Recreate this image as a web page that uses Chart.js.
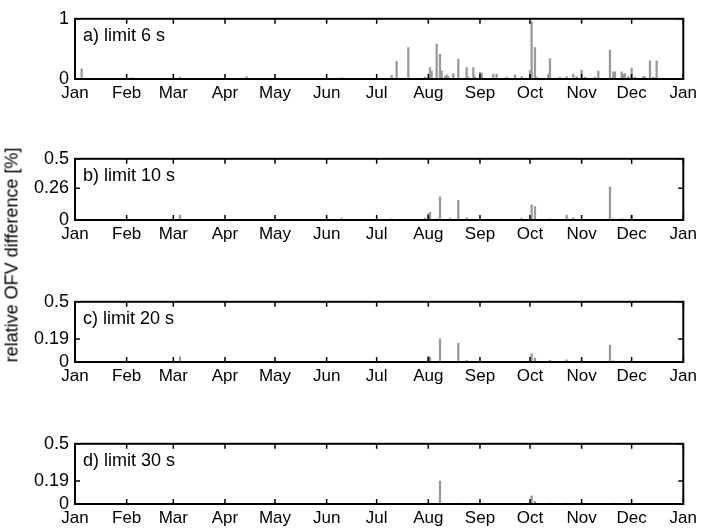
<!DOCTYPE html>
<html>
<head>
<meta charset="utf-8">
<script src="https://cdn.jsdelivr.net/npm/chart.js@4.4.0/dist/chart.umd.min.js"></script>
<style>
  body { margin: 0; background: #fff; }
  #page { position: relative; width: 701px; height: 532px; }
  .panel { position: absolute; left: 0; width: 701px; }
  #ylabel {
    position: absolute; left: 12px; top: 255px;
    transform: translate(-50%, -50%) rotate(-90deg);
    font: 18px "Liberation Sans", Arial, sans-serif;
    white-space: nowrap; color: #000;
  }
</style>
</head>
<body>
<div id="page">
  <div class="panel" style="top:2px;height:105px"><canvas id="c0"></canvas></div>
  <div class="panel" style="top:142px;height:106px"><canvas id="c1"></canvas></div>
  <div class="panel" style="top:285px;height:105px"><canvas id="c2"></canvas></div>
  <div class="panel" style="top:427px;height:105px"><canvas id="c3"></canvas></div>
  <div id="ylabel">relative OFV difference [%]</div>
</div>
<script>
// eje x: dia del año (0 = 1 de enero)
const monthDays = [0, 31, 59, 90, 120, 151, 181, 212, 243, 273, 304, 334, 365];
const monthLabels = ['Jan', 'Feb', 'Mar', 'Apr', 'May', 'Jun', 'Jul', 'Aug', 'Sep', 'Oct', 'Nov', 'Dec', 'Jan'];

// a) limit 6 s
const daysA = [4, 34, 63, 103, 160, 166, 190, 193, 200, 210, 213, 214, 217, 219, 220, 222, 223, 224, 227, 230,
  235, 236, 239, 240, 243, 244, 251, 253, 259, 264, 268, 273, 274, 276, 277, 284, 285, 291, 295, 299,
  301, 304, 306, 312, 314, 321, 323, 324, 328, 329, 330, 332, 334, 336, 341, 342, 345, 347, 349];
const valuesA = [0.17, 0.02, 0.03, 0.04, 0.02, 0.01, 0.06, 0.29, 0.52, 0.03, 0.19, 0.13, 0.58, 0.41, 0.13, 0.04, 0.07, 0.04, 0.09, 0.33,
  0.19, 0.03, 0.19, 0.04, 0.11, 0.10, 0.08, 0.08, 0.03, 0.07, 0.04, 0.14, 0.95, 0.52, 0.03, 0.08, 0.34, 0.03, 0.04, 0.08,
  0.04, 0.15, 0.03, 0.03, 0.13, 0.48, 0.12, 0.12, 0.12, 0.08, 0.09, 0.04, 0.18, 0.03, 0.04, 0.04, 0.30, 0.03, 0.30];

// b) limit 10 s
const daysB = [63, 160, 190, 210, 212, 213, 217, 219, 225, 230, 235, 268, 274, 276, 285, 295, 299, 321, 323, 327, 329, 334];
const valuesB = [0.04, 0.015, 0.01, 0.015, 0.053, 0.063, 0.01, 0.19, 0.015, 0.16, 0.018, 0.015, 0.124, 0.109, 0.01, 0.04, 0.018, 0.27, 0.01, 0.01, 0.01, 0.04];

// c) limit 20 s
const daysC = [63, 212, 213, 219, 230, 235, 274, 276, 285, 295, 321, 323, 328];
const valuesC = [0.043, 0.048, 0.038, 0.193, 0.155, 0.013, 0.068, 0.033, 0.013, 0.018, 0.14, 0.01, 0.008];

// d) limit 30 s
const daysD = [219, 230, 274, 276, 285, 295, 324];
const valuesD = [0.19, 0.008, 0.067, 0.023, 0.008, 0.008, 0.008];

const panelLabels = ['a) limit 6 s', 'b) limit 10 s', 'c) limit 20 s', 'd) limit 30 s'];
const yTicksA = [0, 1];
const yTicksB = [0, 0.26, 0.5];
const yTicksC = [0, 0.19, 0.5];
const yTicksD = [0, 0.19, 0.5];

Chart.defaults.font.family = '"Liberation Sans", Arial, sans-serif';
Chart.defaults.font.size = 17;
Chart.defaults.color = '#000';

// marco, ticks hacia dentro y rotulo del panel
const framePlugin = {
  id: 'frame',
  afterDatasetsDraw(chart, args, opts) {
    const { ctx, chartArea: a, scales: { x, y } } = chart;
    ctx.save();
    ctx.strokeStyle = '#000';
    ctx.lineWidth = 1.5;
    ctx.beginPath();
    x.ticks.forEach(t => {
      const px = x.getPixelForValue(t.value);
      ctx.moveTo(px, a.bottom); ctx.lineTo(px, a.bottom - 5);
      ctx.moveTo(px, a.top); ctx.lineTo(px, a.top + 5);
    });
    y.ticks.forEach(t => {
      const py = y.getPixelForValue(t.value);
      ctx.moveTo(a.left, py); ctx.lineTo(a.left + 5, py);
      ctx.moveTo(a.right, py); ctx.lineTo(a.right - 5, py);
    });
    ctx.stroke();
    ctx.lineWidth = 2;
    ctx.strokeRect(a.left, a.top, a.width, a.height);
    ctx.font = '18px "Liberation Sans", Arial, sans-serif';
    ctx.fillStyle = '#000';
    ctx.textBaseline = 'middle';
    ctx.fillText(opts.text, a.left + 8, a.top + 17);
    ctx.restore();
  }
};

function crearPanel(id, days, values, yTicks, label) {
  const ctx = document.getElementById(id).getContext('2d');
  return new Chart(ctx, {
    type: 'bar',
    data: {
      datasets: [{
        data: days.map((d, i) => ({ x: d, y: values[i] })),
        backgroundColor: '#999999',
        barThickness: 1.6,
        grouped: false
      }]
    },
    options: {
      responsive: true,
      maintainAspectRatio: false,
      animation: false,
      layout: { padding: { top: 12, right: 16, left: 0, bottom: 0 } },
      plugins: {
        legend: { display: false },
        tooltip: { enabled: false },
        frame: { text: label }
      },
      scales: {
        x: {
          type: 'linear',
          min: 0,
          max: 365,
          offset: false,
          grid: { display: false, drawTicks: false },
          border: { display: false },
          afterBuildTicks: s => { s.ticks = monthDays.map(v => ({ value: v })); },
          afterFit: s => { s.height = 28; },
          ticks: {
            autoSkip: false,
            maxRotation: 0,
            padding: 4,
            callback: v => monthLabels[monthDays.indexOf(v)]
          }
        },
        y: {
          min: 0,
          max: yTicks[yTicks.length - 1],
          grid: { display: false, drawTicks: false },
          border: { display: false },
          afterBuildTicks: s => { s.ticks = yTicks.map(v => ({ value: v })); },
          afterFit: s => { s.width = 75; },
          ticks: { padding: 6, font: { size: 18 }, callback: v => String(v) }
        }
      }
    },
    plugins: [framePlugin]
  });
}

crearPanel('c0', daysA, valuesA, yTicksA, panelLabels[0]);
crearPanel('c1', daysB, valuesB, yTicksB, panelLabels[1]);
crearPanel('c2', daysC, valuesC, yTicksC, panelLabels[2]);
crearPanel('c3', daysD, valuesD, yTicksD, panelLabels[3]);
</script>
</body>
</html>
